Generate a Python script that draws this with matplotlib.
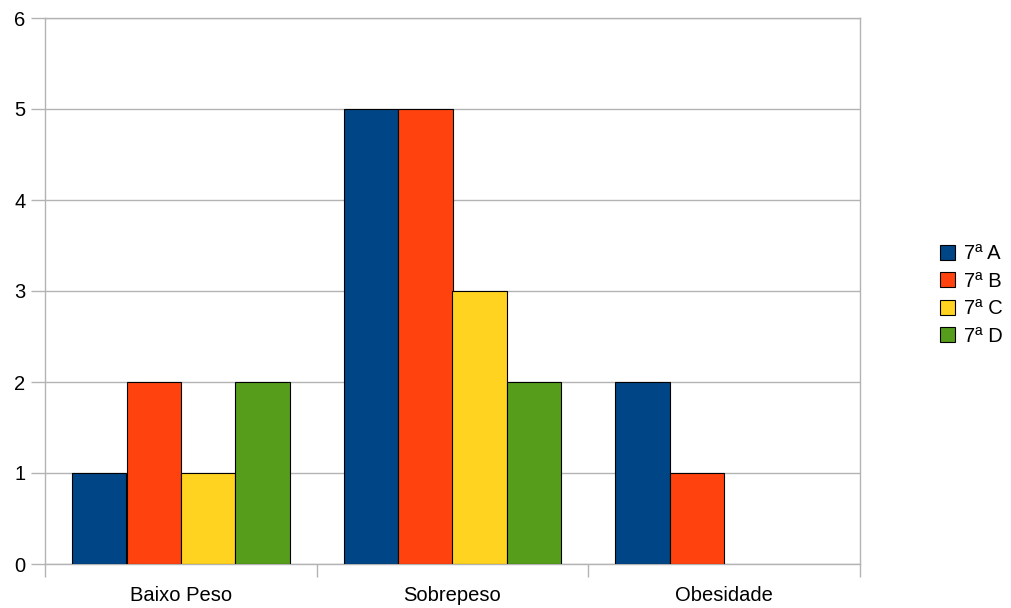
import matplotlib.pyplot as plt
import numpy as np

plt.rcParams['font.family'] = ['Liberation Sans', 'DejaVu Sans']

categorias = ['Baixo Peso', 'Sobrepeso', 'Obesidade']
turmas = ['7ª A', '7ª B', '7ª C', '7ª D']
valores = [
    [1, 5, 2],  # 7ª A
    [2, 5, 1],  # 7ª B
    [1, 3, 0],  # 7ª C
    [2, 2, 0],  # 7ª D
]
cores = ['#004586', '#ff420e', '#ffd320', '#579d1c']

fig = plt.figure(figsize=(10.12, 6.08), dpi=100)
ax = fig.add_axes([45 / 1012, 44 / 608, 815 / 1012, 546 / 608])

x = np.arange(len(categorias))
largura = 0.2
for i, (nome, vals, cor) in enumerate(zip(turmas, valores, cores)):
    vals = np.array(vals, dtype=float)
    pos = x - 0.3 + i * largura
    mask = vals > 0
    ax.bar(pos[mask], vals[mask], width=largura, color=cor,
           edgecolor='black', linewidth=0.8, zorder=3)
    # handle so a legenda
    ax.bar([0], [0], width=0, color=cor, edgecolor='black', linewidth=0.8, label=nome)

ax.set_xlim(-0.5, 2.5)
ax.set_ylim(0, 6)
ax.set_yticks(range(7))
ax.grid(axis='y', color='#b3b3b3', linewidth=1, zorder=0)

ax.set_xticks(x)
ax.set_xticklabels(categorias)
ax.set_xticks(np.arange(-0.5, 3, 1), minor=True)
ax.tick_params(axis='x', which='major', length=0, pad=16, labelsize=14.5)
ax.tick_params(axis='x', which='minor', length=9, width=1, color='#b3b3b3')
ax.tick_params(axis='y', length=10, width=1, color='#b3b3b3', pad=4, labelsize=14.5)

for lado in ['left', 'bottom', 'right', 'top']:
    ax.spines[lado].set_color('#b3b3b3')
    ax.spines[lado].set_linewidth(1)

ax.legend(loc='center left', bbox_to_anchor=(940 / 1012, 313 / 608), bbox_transform=fig.transFigure,
          frameon=False, fontsize=14.5, handlelength=0.75, handleheight=0.75,
          handletextpad=0.45, labelspacing=0.42, borderaxespad=0, borderpad=0)

fig.savefig('out.png', dpi=100)
